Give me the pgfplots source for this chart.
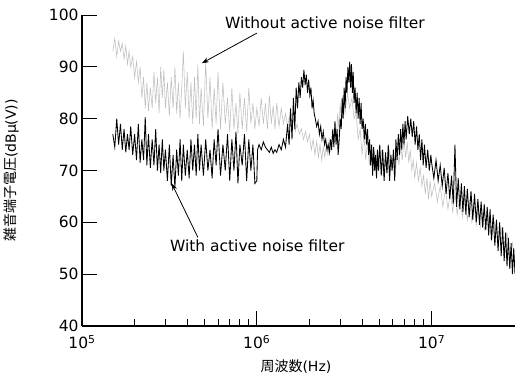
\documentclass[border=0pt]{standalone}
\usepackage{pgfplots}
\pgfplotsset{compat=1.18}
\usepackage{fontspec}
\setmainfont{DejaVu Sans}
\newfontfamily\cjk{Noto Sans CJK JP}
\usetikzlibrary{arrows.meta}
\begin{document}
\begin{tikzpicture}
\begin{axis}[
  scale only axis, width=433pt, height=311pt,
  xmode=log, xmin=1e5, xmax=3e7, ymin=40, ymax=100,
  axis lines=left, axis line style={-, line width=1.1pt},
  tick align=inside, tick style={black, line width=0.9pt},
  major tick length=15pt, minor tick length=7pt,
  xtick={1e5,1e6,1e7},
  xticklabels={10\textsuperscript{5},10\textsuperscript{6},10\textsuperscript{7}},
  extra x ticks={3e7}, extra x tick labels={},
  extra x tick style={major tick length=14pt},
  ytick={40,50,60,70,80,90,100},
  yticklabels={40,50,60,70,80,90,100},
  ticklabel style={font=\fontsize{15.5}{18}\selectfont},
  xticklabel style={yshift=-6pt},
  ylabel={{\cjk 雑音端子電圧}(dBμ(V))},
  xlabel={{\cjk 周波数}(Hz)},
  every axis y label/.style={at={(axis description cs:-0.163,0.5)}, rotate=90, anchor=center, font=\fontsize{14}{16}\selectfont},
  every axis x label/.style={at={(axis description cs:0.494,-0.129)}, anchor=center, font=\fontsize{14}{16}\selectfont},
  clip=false,
]
% Without active noise filter (gray)
\addplot[gray!50, line width=0.55pt] coordinates {
(1.50e5,93)(1.54e5,95.5)(1.58e5,92)(1.62e5,95)(1.66e5,93)(1.70e5,94.5)(1.74e5,91.5)(1.78e5,94)(1.82e5,90.5)(1.86e5,93)
(1.90e5,90)(1.95e5,92)(2.00e5,88)(2.05e5,91)(2.10e5,87)(2.15e5,90)(2.20e5,84)(2.25e5,88)(2.30e5,82)(2.35e5,87)
(2.40e5,81.5)(2.46e5,86)(2.52e5,82)(2.58e5,89)(2.64e5,83)(2.70e5,88)(2.76e5,81)(2.82e5,90)(2.88e5,84)(2.94e5,89.5)
(3.00e5,82)(3.08e5,87)(3.16e5,80.5)(3.24e5,88)(3.32e5,82)(3.40e5,90)(3.48e5,81)(3.56e5,87)(3.64e5,80)(3.72e5,86)
(3.80e5,93)(3.90e5,82)(4.00e5,89)(4.10e5,80)(4.20e5,87)(4.30e5,79)(4.40e5,88)(4.50e5,80)(4.60e5,90.5)(4.70e5,79)
(4.80e5,86)(4.95e5,78.5)(5.10e5,91)(5.25e5,80)(5.40e5,88)(5.55e5,78)(5.70e5,86)(5.85e5,79)(6.00e5,89)(6.20e5,78)
(6.40e5,87)(6.60e5,79)(6.80e5,84)(7.00e5,77.5)(7.20e5,86)(7.40e5,78)(7.60e5,83)(7.80e5,77)(8.00e5,85)(8.25e5,78)
(8.50e5,84)(8.75e5,77.5)(9.00e5,86)(9.25e5,79)(9.50e5,83)(9.75e5,78)
(1.00e6,82)(1.03e6,78.5)(1.06e6,84)(1.09e6,79)(1.12e6,83)(1.15e6,78)(1.18e6,84.5)(1.21e6,79)(1.24e6,82.5)(1.27e6,78)
(1.30e6,83)(1.34e6,78.5)(1.38e6,82)(1.42e6,79)(1.46e6,81)(1.50e6,78.5)(1.54e6,80.5)(1.58e6,78)(1.62e6,80)(1.66e6,77.5)
(1.70e6,79)(1.75e6,77)(1.80e6,78)(1.85e6,76)(1.90e6,77.5)(1.95e6,75.5)(2.00e6,77)(2.05e6,74)(2.10e6,76)(2.15e6,73)
(2.20e6,75.5)(2.25e6,72.5)(2.30e6,75)(2.35e6,72)(2.40e6,74.5)(2.45e6,72.5)(2.50e6,75)(2.55e6,73)(2.60e6,76)(2.65e6,73.5)
(2.70e6,77)(2.75e6,75)(2.80e6,79)(2.85e6,76)(2.90e6,81)(2.95e6,78)(3.00e6,83)(3.05e6,79)(3.10e6,84)(3.20e6,81)
(3.30e6,85)(3.40e6,82)(3.50e6,84)(3.60e6,80)(3.70e6,81)(3.80e6,76)(3.90e6,78)(4.00e6,73)(4.10e6,77)(4.20e6,72)
(4.30e6,76)(4.40e6,71)(4.50e6,74.5)(4.60e6,70)(4.70e6,74)(4.80e6,69.5)(4.90e6,73)(5.00e6,70)(5.15e6,74)(5.30e6,69)
(5.45e6,73)(5.60e6,69.5)(5.75e6,74)(5.90e6,70)(6.05e6,73.5)(6.20e6,69)(6.35e6,74)(6.50e6,71)(6.65e6,75)(6.80e6,72)
(6.95e6,76)(7.10e6,72.5)(7.25e6,75.5)(7.40e6,71.5)(7.55e6,74)(7.70e6,70)(7.85e6,72)(8.00e6,68.5)(8.20e6,71.5)(8.40e6,68)
(8.60e6,70.5)(8.80e6,67)(9.00e6,69)(9.20e6,65.5)(9.40e6,68.5)(9.60e6,64.5)(9.80e6,68)
(1.00e7,65)(1.04e7,67.5)(1.08e7,64)(1.12e7,67)(1.16e7,63)(1.20e7,66.5)(1.24e7,62.5)(1.28e7,66)(1.32e7,62)(1.36e7,65.5)
(1.40e7,61.5)(1.45e7,65)(1.50e7,61)(1.55e7,64.5)(1.60e7,60.5)(1.65e7,64)(1.70e7,60)(1.75e7,63.5)(1.80e7,59.5)(1.85e7,63)
(1.90e7,59)(1.95e7,62)(2.00e7,58.5)(2.10e7,61.5)(2.20e7,57)(2.30e7,60)(2.40e7,56)(2.50e7,59)(2.60e7,54.5)(2.70e7,58)
(2.80e7,53)(2.90e7,56)(3.00e7,52)
};
% With active noise filter (black)
\addplot[black, line width=0.85pt] coordinates {
(1.50e5,77)(1.54e5,74.5)(1.58e5,80)(1.62e5,75)(1.66e5,79)(1.70e5,74)(1.74e5,78)(1.78e5,73.5)(1.82e5,77)(1.86e5,74)
(1.90e5,78.5)(1.95e5,73)(2.00e5,77)(2.05e5,72)(2.10e5,79)(2.15e5,71.5)(2.20e5,76)(2.25e5,72)(2.30e5,80.3)(2.35e5,71)
(2.40e5,77)(2.46e5,70.5)(2.52e5,76)(2.58e5,71)(2.64e5,78)(2.70e5,70)(2.76e5,75)(2.82e5,69.5)(2.88e5,76)(2.94e5,70)
(3.00e5,74)(3.08e5,68)(3.16e5,75)(3.24e5,67)(3.32e5,73)(3.40e5,66.7)(3.48e5,74)(3.56e5,69)(3.64e5,76)(3.72e5,68)
(3.80e5,75)(3.90e5,69)(4.00e5,74)(4.10e5,68.5)(4.20e5,76)(4.30e5,70)(4.40e5,75)(4.50e5,69)(4.60e5,77)(4.70e5,70)
(4.80e5,75)(4.95e5,69)(5.10e5,76)(5.25e5,70)(5.40e5,74)(5.55e5,68.5)(5.70e5,76)(5.85e5,71)(6.00e5,78)(6.20e5,69)
(6.40e5,75)(6.60e5,70)(6.80e5,77)(7.00e5,68)(7.20e5,76)(7.40e5,70)(7.60e5,77.5)(7.80e5,67.5)(8.00e5,75)(8.25e5,71)
(8.50e5,77)(8.75e5,68)(9.00e5,76)(9.25e5,70)(9.50e5,75)(9.75e5,67.5)(1.00e6,68)
(1.01e6,74)(1.03e6,75)(1.06e6,74)(1.09e6,75.5)(1.12e6,74.5)(1.15e6,74)(1.18e6,73.5)(1.21e6,74.5)(1.24e6,73.3)(1.27e6,74)
(1.30e6,73.5)(1.34e6,75)(1.38e6,74)(1.42e6,76)(1.46e6,74.5)(1.50e6,79)(1.53e6,75)(1.56e6,82)(1.59e6,76)(1.62e6,84)
(1.65e6,78)(1.68e6,86)(1.71e6,82)(1.74e6,87)(1.77e6,84)(1.80e6,88)(1.83e6,86)(1.86e6,89.4)(1.89e6,86.5)(1.92e6,88.5)
(1.95e6,85)(1.98e6,87.5)(2.01e6,84.5)(2.04e6,86)(2.07e6,82)(2.10e6,83.5)(2.13e6,81)(2.16e6,80)(2.20e6,78.5)(2.24e6,79.5)
(2.28e6,77)(2.32e6,78.5)(2.36e6,76)(2.40e6,77.5)(2.44e6,75)(2.48e6,76)(2.52e6,74)(2.56e6,75)(2.60e6,73.5)(2.64e6,76)
(2.68e6,74)(2.72e6,78)(2.76e6,74.5)(2.80e6,79.5)(2.84e6,75)(2.88e6,78)(2.92e6,73)(2.96e6,76)(3.00e6,80)(3.04e6,78)
(3.08e6,84)(3.12e6,80)(3.16e6,86)(3.20e6,82)(3.24e6,88)(3.28e6,85)(3.32e6,90)(3.36e6,87)(3.40e6,91)(3.44e6,86)
(3.48e6,90.5)(3.52e6,85)(3.56e6,89)(3.60e6,83)(3.65e6,86)(3.70e6,81)(3.75e6,85)(3.80e6,80)(3.85e6,84)(3.90e6,79)
(3.95e6,83)(4.00e6,78)(4.06e6,80)(4.12e6,76)(4.18e6,79)(4.24e6,75)(4.30e6,78)(4.36e6,73)(4.42e6,76)(4.48e6,71)
(4.54e6,75)(4.60e6,69)(4.66e6,74.5)(4.72e6,70)(4.78e6,73)(4.84e6,68.5)(4.90e6,74)(4.96e6,70)(5.05e6,75)(5.15e6,69)
(5.25e6,74)(5.35e6,68)(5.45e6,73.5)(5.55e6,69.5)(5.65e6,75)(5.75e6,68)(5.85e6,73)(5.95e6,70)(6.05e6,74)(6.15e6,68)
(6.25e6,76)(6.35e6,72)(6.45e6,77)(6.55e6,73)(6.65e6,78)(6.75e6,74)(6.85e6,79)(6.95e6,75)(7.05e6,79.5)(7.15e6,76)
(7.30e6,80.5)(7.45e6,77)(7.60e6,80)(7.75e6,76.5)(7.90e6,79.5)(8.05e6,75)(8.20e6,78.5)(8.35e6,74)(8.50e6,77)(8.65e6,72)
(8.80e6,76)(8.95e6,71)(9.10e6,75)(9.30e6,70.5)(9.50e6,74)(9.70e6,70)(9.90e6,73)
(1.00e7,71.5)(1.03e7,68.5)(1.06e7,72)(1.09e7,68)(1.12e7,71)(1.15e7,67)(1.18e7,70.5)(1.21e7,65.5)(1.24e7,69.5)(1.27e7,64.5)
(1.30e7,69)(1.33e7,63.5)(1.36e7,75)(1.39e7,63)(1.42e7,68.5)(1.45e7,62.5)(1.48e7,67.5)(1.51e7,62)(1.54e7,67)(1.57e7,61.5)
(1.60e7,66.5)(1.64e7,61)(1.68e7,66)(1.72e7,60.5)(1.76e7,65.5)(1.80e7,60)(1.84e7,64.5)(1.88e7,59.5)(1.92e7,64)(1.96e7,59)
(2.00e7,63.5)(2.04e7,58.5)(2.08e7,63)(2.12e7,57.5)(2.16e7,62.5)(2.20e7,56.5)(2.25e7,61.5)(2.30e7,55.5)(2.35e7,60.5)(2.40e7,54.5)
(2.45e7,60)(2.50e7,53.5)(2.55e7,59)(2.60e7,52.5)(2.65e7,58)(2.70e7,51.5)(2.75e7,57)(2.80e7,51)(2.85e7,56)(2.90e7,50)
(2.95e7,55)(3.00e7,50)
};
\node[anchor=west, font=\fontsize{15.5}{18}\selectfont, inner sep=0pt] at (axis cs:6.56e5,98.6) {Without active noise filter};
\draw[-{Stealth[length=7pt,width=5pt]}, line width=0.8pt] (axis cs:1e6,96.5) -- (axis cs:4.85e5,90.7);
\node[anchor=west, font=\fontsize{15.5}{18}\selectfont, inner sep=0pt] at (axis cs:3.18e5,55.4) {With active noise filter};
\draw[-{Stealth[length=7pt,width=5pt]}, line width=0.8pt] (axis cs:4.6e5,57.1) -- (axis cs:3.26e5,67.5);
\end{axis}
\pgfresetboundingbox
\path[use as bounding box] ([shift={(-82pt,-52pt)}]current axis.south west) rectangle ([shift={(0pt,15pt)}]current axis.north east);
\end{tikzpicture}
\end{document}
